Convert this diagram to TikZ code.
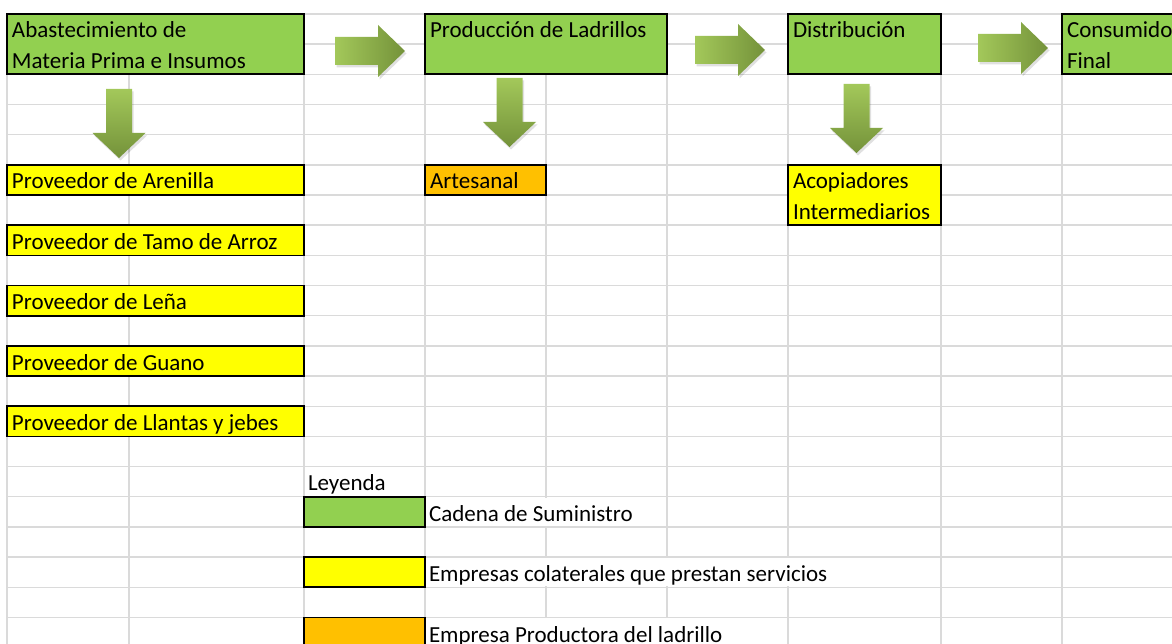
\documentclass[tikz,border=0pt]{standalone}
\usepackage{fontspec}
\setmainfont{Carlito}
\definecolor{xgreen}{HTML}{92D050}
\definecolor{xyellow}{HTML}{FFFF00}
\definecolor{xorange}{HTML}{FFC000}
\definecolor{gridc}{HTML}{DADADA}
\definecolor{arlight}{HTML}{A3C85A}
\definecolor{ardark}{HTML}{74923A}
\newcommand\rightblock[2]{({#1},{#2-14}) -- ({#1+43},{#2-14}) -- ({#1+43},{#2-26}) -- ({#1+70},{#2}) -- ({#1+43},{#2+26}) -- ({#1+43},{#2+14}) -- ({#1},{#2+14}) -- cycle}
\newcommand\downblock[2]{({#1-13},{#2}) -- ({#1+13},{#2}) -- ({#1+13},{#2+44}) -- ({#1+26.5},{#2+44}) -- ({#1},{#2+69}) -- ({#1-26.5},{#2+44}) -- ({#1-13},{#2+44}) -- cycle}
\begin{document}
\begin{tikzpicture}[x=1pt,y=-1pt,
  gridline/.style={draw=gridc, line width=1.4pt},
  cellbox/.style={draw=black, line width=1.7pt, anchor=north west, inner sep=0pt, outer sep=0pt},
  lbl/.style={anchor=base west, inner sep=0pt, outer sep=0pt, font=\fontsize{23}{27}\selectfont},
  shadowfill/.style={fill=black, fill opacity=0.12},
  hshade/.style={left color=arlight, right color=ardark, draw=none},
  vshade/.style={top color=arlight, bottom color=ardark, draw=none}]
\useasboundingbox (0,0) rectangle (1172,644);
\clip (0,0) rectangle (1172,644);
\fill[white] (0,0) rectangle (1172,644);
% grid
\foreach \k in {0,...,21} \draw[gridline] (7,{14+30.17*\k}) -- (1172,{14+30.17*\k});
\foreach \x in {7,129,304,425,546,667,788,941,1062} \draw[gridline] (\x,14) -- (\x,644);
% cells where overflowing text hides the grid
\fill[white] (425.8,497.5) rectangle (666.2,526.0);
\fill[white] (425.8,557.8) rectangle (940.2,586.4);
\fill[white] (425.8,618.1) rectangle (787.2,644);
% chain boxes
\node[cellbox, fill=xgreen, minimum width=297, minimum height=60.34] (abast) at (7,14) {};
\node[cellbox, fill=xgreen, minimum width=242, minimum height=60.34] (prod) at (425,14) {};
\node[cellbox, fill=xgreen, minimum width=153, minimum height=60.34] (dist) at (788,14) {};
\node[cellbox, fill=xgreen, minimum width=150, minimum height=60.34] (cons) at (1062,14) {};
\node[lbl] (t1) at (12,38) {Abastecimiento de};
\node[lbl] (t2) at (12,68.2) {Materia Prima e Insumos};
\node[lbl] (t3) at (430,38) {Producción de Ladrillos};
\node[lbl] (t4) at (793,38) {Distribución};
\node[lbl] (t5) at (1067,38) {Consumido};
\node[lbl] (t6) at (1067,68.2) {Final};
% supplier boxes
\node[cellbox, fill=xyellow, minimum width=297, minimum height=30.17] (arena) at (7,164.85) {};
\node[cellbox, fill=xyellow, minimum width=297, minimum height=30.17] (tamo) at (7,225.2) {};
\node[cellbox, fill=xyellow, minimum width=297, minimum height=30.17] (lena) at (7,285.5) {};
\node[cellbox, fill=xyellow, minimum width=297, minimum height=30.17] (guano) at (7,345.9) {};
\node[cellbox, fill=xyellow, minimum width=297, minimum height=30.17] (llantas) at (7,406.2) {};
\node[cellbox, fill=xorange, minimum width=121, minimum height=30.17] (arte) at (425,164.85) {};
\node[cellbox, fill=xyellow, minimum width=153, minimum height=60.34] (acop) at (788,164.85) {};
\node[lbl] (s1) at (12,189) {Proveedor de Arenilla};
\node[lbl] (s2) at (12,249.3) {Proveedor de Tamo de Arroz};
\node[lbl] (s3) at (12,309.6) {Proveedor de Leña};
\node[lbl] (s4) at (12,370) {Proveedor de Guano};
\node[lbl] (s5) at (12,430.3) {Proveedor de Llantas y jebes};
\node[lbl] (s6) at (430,189) {Artesanal};
\node[lbl] (s7) at (793,189) {Acopiadores};
\node[lbl] (s8) at (793,219.2) {Intermediarios};
% legend
\node[lbl] (ley) at (308,490.8) {Leyenda};
\node[cellbox, fill=xgreen, minimum width=121, minimum height=30.17] (lg1) at (304,496.7) {};
\node[cellbox, fill=xyellow, minimum width=121, minimum height=30.17] (lg2) at (304,557.0) {};
\node[cellbox, fill=xorange, minimum width=121, minimum height=30.17] (lg3) at (304,617.4) {};
\node[lbl] (l1) at (429,521.2) {Cadena de Suministro};
\node[lbl] (l2) at (429,581.6) {Empresas colaterales que prestan servicios};
\node[lbl] (l3) at (429,642.8) {Empresa Productora del ladrillo};
% block arrows (shadow, then shaded body)
\foreach \ax/\ay in {335/51, 695/50, 978/48} {
  \fill[shadowfill, shift={(1.5,2.5)}] \rightblock{\ax}{\ay};
  \shade[hshade] \rightblock{\ax}{\ay};
}
\foreach \ax/\ay in {119/89, 509.5/78, 856.5/84} {
  \fill[shadowfill, shift={(1.5,2.5)}] \downblock{\ax}{\ay};
  \shade[vshade] \downblock{\ax}{\ay};
}
\end{tikzpicture}
\end{document}
